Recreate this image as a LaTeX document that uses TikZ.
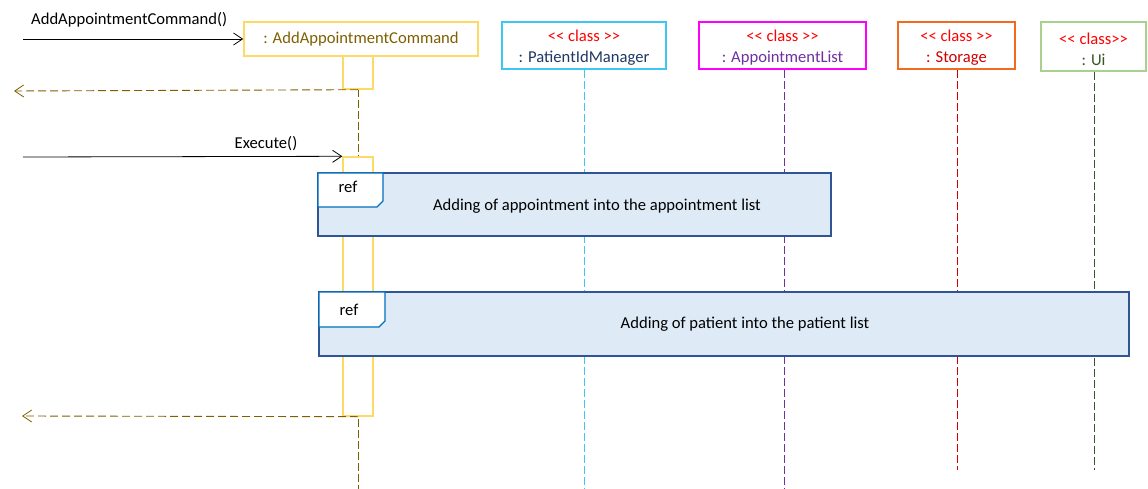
\documentclass[tikz,border=0pt]{standalone}
\usepackage{fontspec}
\setmainfont{Carlito}
\usetikzlibrary{arrows.meta}
\definecolor{cyel}{HTML}{FFD966}
\definecolor{colive}{HTML}{7F6000}
\definecolor{cltblue}{HTML}{3CC8F0}
\definecolor{cnavy}{HTML}{1F3864}
\definecolor{cmag}{HTML}{FF00FF}
\definecolor{cpurple}{HTML}{7030A0}
\definecolor{corange}{HTML}{F26B1D}
\definecolor{cdred}{HTML}{D00000}
\definecolor{clgreen}{HTML}{A9D18E}
\definecolor{cdgreen}{HTML}{375623}
\definecolor{creffill}{HTML}{DEEBF7}
\definecolor{crefborder}{HTML}{2F5597}
\definecolor{ctab}{HTML}{0070C0}
\definecolor{cred}{HTML}{FF0000}
\begin{document}
\begin{tikzpicture}[x=1pt,y=-1pt,
  every node/.style={font=\fontsize{16.6}{19}\selectfont, inner sep=0pt},
  objbox/.style={draw, line width=1.6pt, fill=white, align=center},
  objtext/.style={align=center, yshift=-2.5pt},
  actbox/.style={draw=cyel, line width=1.4pt, fill=white, minimum width=30pt},
  lifeline/.style={line width=0.9pt, dash pattern=on 8pt off 3pt},
  msg/.style={line width=0.8pt, -{Straight Barb[length=9pt,width=12pt,line width=0.8pt]}},
  retmsg/.style={line width=0.9pt, colive, dash pattern=on 8pt off 4pt, -{Straight Barb[length=9pt,width=12pt,line width=0.8pt]}},
  refbox/.style={draw=crefborder, fill=creffill, line width=1.6pt},
  reftab/.style={draw=ctab, fill=white, line width=1.4pt}
]
\useasboundingbox (0,0) rectangle (1148,489);

% object boxes
\node[objbox, draw=cyel, text=colive, minimum width=234pt, minimum height=34pt] (aac) at (361,39) {: AddAppointmentCommand};
\node[objbox, draw=cltblue, minimum width=164pt, minimum height=47pt] (pim) at (584,45.5) {};
\node[objtext] (pimt) at (pim.center) {\textcolor{cred}{<{}< class >{}>}\\[2pt]\textcolor{cnavy}{: PatientIdManager}};
\node[objbox, draw=cmag, minimum width=167pt, minimum height=47pt] (apl) at (782.5,45.5) {};
\node[objtext] (aplt) at (apl.center) {\textcolor{cred}{<{}< class >{}>}\\[2pt]\textcolor{cpurple}{: AppointmentList}};
\node[objbox, draw=corange, minimum width=117pt, minimum height=47pt] (sto) at (956.5,45.5) {};
\node[objtext] (stot) at (sto.center) {\textcolor{cred}{<{}< class >{}>}\\[2pt]\textcolor{cdred}{: Storage}};
\node[objbox, draw=clgreen, minimum width=105pt, minimum height=49pt] (ui) at (1093.5,46.5) {};
\node[objtext] (uit) at (ui.center) {\textcolor{cred}{<{}< class>{}>}\\[2pt]\textcolor{cdgreen}{: Ui}};

% lifeline ends
\coordinate (aacend) at (358,489);
\coordinate (pimend) at (584,489);
\coordinate (aplend) at (784,489);
\coordinate (stoend) at (957,470);
\coordinate (uiend) at (1094,470);

\draw[lifeline, colive] (358,56) -- (aacend);
\draw[lifeline, cltblue] (pim.south -| pimend) -- (pimend);
\draw[lifeline, cpurple] (apl.south -| aplend) -- (aplend);
\draw[lifeline, cdred] (sto.south -| stoend) -- (stoend);
\draw[lifeline, cdgreen] (ui.south -| uiend) -- (uiend);

% activations
\node[actbox, minimum height=33pt] (act1) at (358,72.5) {};
\node[actbox, minimum height=259pt] (act2) at (358,286.5) {};

% messages
\coordinate (m1s) at (23,39);
\draw[msg] (m1s) -- (aac.west);
\node[anchor=south west] (m1l) at (31,27) {AddAppointmentCommand()};

\coordinate (r1e) at (14,91);
\draw[retmsg] (act1.south) -- (r1e);

\coordinate (m2s) at (23,157);
\draw[msg] (m2s) -- (act2.north west);
\node[anchor=south] (m2l) at (266,151) {Execute()};

% ref 1
\draw[refbox] (318,173) rectangle (831,236);
\draw[reftab] (318,173) -- (383,173) -- (383,201) -- (377,207) -- (318,207) -- cycle;
\node (ref1t) at (348,187) {ref};
\node (ref1l) at (597,206) {Adding of appointment into the appointment list};

% ref 2
\draw[refbox] (319,292) rectangle (1129,356);
\draw[reftab] (319,292) -- (385,292) -- (385,321) -- (379,327) -- (319,327) -- cycle;
\node (ref2t) at (349,310) {ref};
\node (ref2l) at (745,324) {Adding of patient into the patient list};

\coordinate (r2e) at (22,416);
\draw[retmsg] (act2.south) -- (r2e);
\end{tikzpicture}
\end{document}
